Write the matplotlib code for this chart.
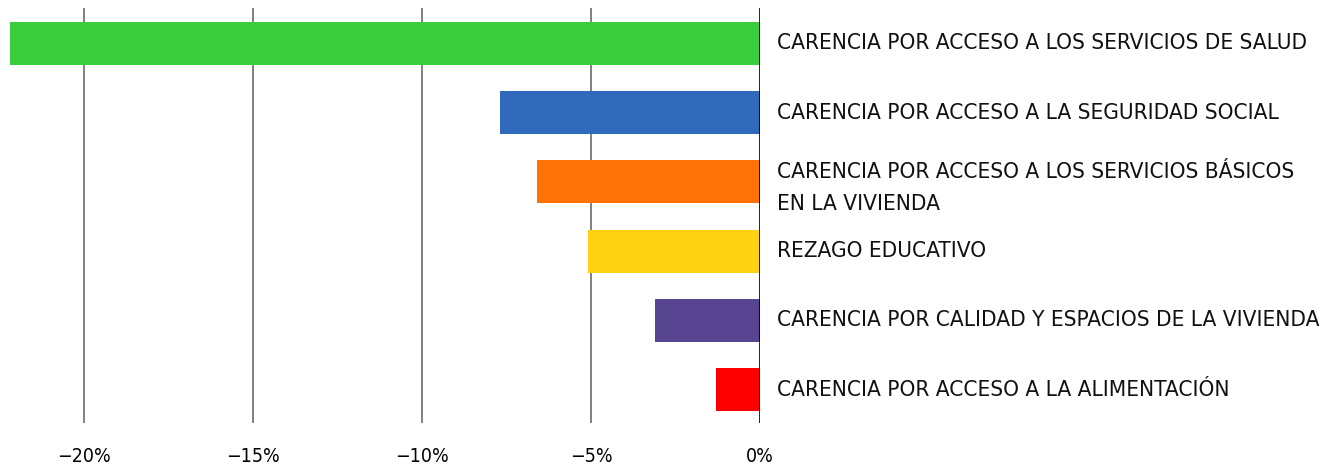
import numpy as np
import matplotlib.pyplot as plt
from matplotlib.ticker import FuncFormatter

# Variación de carencias sociales (%)
categorias = [
    'CARENCIA POR ACCESO A LOS SERVICIOS DE SALUD',
    'CARENCIA POR ACCESO A LA SEGURIDAD SOCIAL',
    'CARENCIA POR ACCESO A LOS SERVICIOS BÁSICOS\nEN LA VIVIENDA',
    'REZAGO EDUCATIVO',
    'CARENCIA POR CALIDAD Y ESPACIOS DE LA VIVIENDA',
    'CARENCIA POR ACCESO A LA ALIMENTACIÓN',
]
variacion = [-22.2, -7.7, -6.6, -5.1, -3.1, -1.3]
colores = ['#3ACE3F', '#2F6BBA', '#FF7205', '#FED111', '#574591', '#FF0000']
ticks = [-20, -15, -10, -5, 0]

plt.rcParams['font.family'] = ['DejaVu Sans']
plt.rcParams['font.stretch'] = 'condensed'

fig = plt.figure(figsize=(13.26, 4.66), dpi=100)
ax = fig.add_axes([10 / 1326, 43 / 466, 750 / 1326, 415 / 466])

y = np.arange(len(categorias))
ax.barh(y, variacion, height=0.62, color=colores, zorder=2)
ax.set_ylim(5.48, -0.51)
ax.set_xlim(variacion[0], 0)

for t in ticks[:-1]:
    ax.axvline(t, color='#6b6b6b', lw=1.2, zorder=1)
ax.axvline(0, color='black', lw=1.2, zorder=3)

# etiquetas a la derecha del eje cero
for yi, lab in zip(y, categorias):
    ax.text(0.5, yi + (0.09 if '\n' in lab else 0.0), lab, ha='left', va='center',
            fontsize=16.2, stretch='condensed', linespacing=1.72, color='#111111',
            clip_on=False)

ax.set_xticks(ticks)
ax.xaxis.set_major_formatter(FuncFormatter(lambda v, p: f'{v:.0f}%'.replace('-', '\u2212')))
ax.tick_params(axis='x', length=0, pad=17, labelsize=14)
ax.set_yticks([])
for s in ax.spines.values():
    s.set_visible(False)

fig.savefig('out.png', dpi=100)
